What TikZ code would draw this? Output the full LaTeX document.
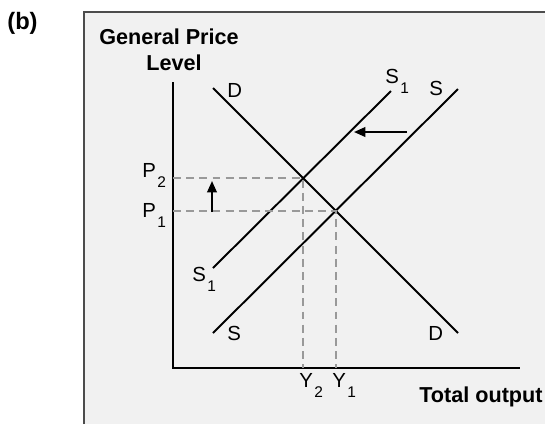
\documentclass[tikz,border=0pt]{standalone}
\usepackage{fontspec}
\setmainfont{Liberation Sans}
\usepackage{tikz}
\usetikzlibrary{arrows.meta, positioning, calc}

\definecolor{panelgray}{HTML}{F1F1F1}
\definecolor{dashgray}{HTML}{999999}
\newcommand{\lowsub}[1]{\hspace{0.8pt}\raisebox{-5.8pt}{\fontsize{8.8}{10}\selectfont #1}}

\begin{document}
\begin{tikzpicture}[
    x=0.02cm, y=-0.02cm,
    every node/.style={font=\fontsize{11.6}{13}\selectfont, inner sep=0pt, anchor=base west},
    title/.style={font=\fontsize{12.3}{14}\selectfont\bfseries},
    curve/.style={line width=1.1pt},
    guide/.style={dashgray, line width=1.1pt, dash pattern=on 4.5pt off 3pt},
    shiftarrow/.style={line width=1.1pt, -{Triangle[length=6.5pt, width=5.5pt]}}
]
\useasboundingbox (0,0) rectangle (545,424);

% Panel
\fill[panelgray] (84,12) rectangle (545,424);
\draw[black!70, line width=0.6pt] (84,424) -- (84,12) -- (545,12);
\node[title, font=\fontsize{13.5}{15}\selectfont\bfseries] (tag) at (7,29) {(b)};

% Axes
\coordinate (origin) at (173,368);
\coordinate (ytop) at (173,82);
\coordinate (xend) at (520,368);
\draw[curve] (ytop) -- (origin) -- (xend);
\node[title] (ylab1) at (99,44) {General Price};
\node[title] (ylab2) at (146,70) {Level};
\node[title] (xlab) at (419,402) {Total output};

% Curves
\coordinate (d0) at (213,88);
\coordinate (d1) at (458,333);
\coordinate (s0) at (213,333);
\coordinate (s1) at (458,89);
\coordinate (sa0) at (213,268);
\coordinate (sa1) at (391,91);
\draw[curve] (d0) -- (d1);
\draw[curve] (s0) -- (s1);
\draw[curve] (sa0) -- (sa1);

\node (dtop) at (227,97) {D};
\node (dbot) at (428,340) {D};
\node (stop) at (429,95) {S};
\node (sbot) at (227,340) {S};
\node (satop) at (385,83) {S\lowsub{1}};
\node (sabot) at (192,281) {S\lowsub{1}};

% Equilibria
\coordinate (e1) at (intersection of d0--d1 and s0--s1);
\coordinate (e2) at (intersection of d0--d1 and sa0--sa1);
\draw[guide] (origin |- e1) -- (e1) -- (e1 |- origin);
\draw[guide] (origin |- e2) -- (e2) -- (e2 |- origin);

\node (p2) at (142,177) {P\lowsub{2}};
\node (p1) at (142,217) {P\lowsub{1}};
\node (y2) at (299,387) {Y\lowsub{2}};
\node (y1) at (332,387) {Y\lowsub{1}};

% Shifts
\coordinate (up0) at (212,212);
\coordinate (up1) at (212,181);
\coordinate (lf0) at (407,132);
\coordinate (lf1) at (354,132);
\draw[shiftarrow] (up0) -- (up1);
\draw[shiftarrow] (lf0) -- (lf1);

\end{tikzpicture}
\end{document}
